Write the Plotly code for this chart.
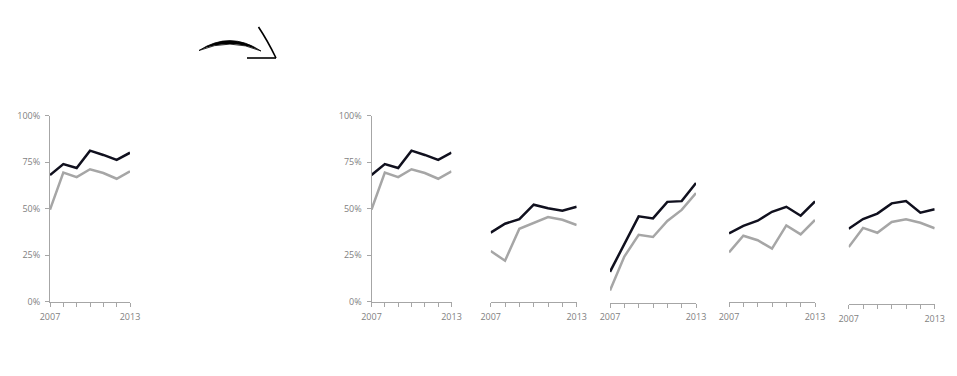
import plotly.graph_objects as go

# page body has an 8px margin: draw in a slightly smaller figure and shift all frames
OFF = 8
W, H = 957 - 2 * OFF, 376 - 2 * OFF

years = [2007, 2008, 2009, 2010, 2011, 2012, 2013]
year_labels = ["2007", "", "", "", "", "", "2013"]
y_ticks = [0, 25, 50, 75, 100]
y_tick_labels = ["0%", "25%", "50%", "75%", "100%"]

overall_black = [68.1, 74.0, 71.9, 81.2, 78.9, 76.2, 80.1]
overall_grey = [49.5, 69.4, 67.0, 71.2, 69.2, 66.1, 70.1]
p3_black = [37.3, 42.1, 44.5, 52.3, 50.4, 49.1, 51.2]
p3_grey = [27.4, 22.2, 39.4, 42.6, 45.7, 44.2, 41.4]
p4_black = [16.5, 31.0, 46.3, 45.2, 54.1, 54.5, 64.2]
p4_grey = [6.5, 24.7, 36.4, 35.2, 43.8, 49.8, 58.8]
p5_black = [36.9, 40.9, 43.7, 48.5, 51.2, 46.4, 54.1]
p5_grey = [26.7, 35.6, 33.2, 28.7, 41.2, 36.4, 44.1]
p6_black = [40.5, 45.7, 48.6, 54.1, 55.4, 49.1, 50.9]
p6_grey = [30.6, 40.9, 38.3, 44.1, 45.5, 43.7, 40.7]

panels = [
    (overall_black, overall_grey, True),
    (overall_black, overall_grey, True),
    (p3_black, p3_grey, False),
    (p4_black, p4_grey, False),
    (p5_black, p5_grey, False),
    (p6_black, p6_grey, False),
]

# panel frames in page pixels: (x_left, x_right, y_baseline)
frames = [
    (50, 130, 301.7),
    (371.5, 451.5, 301.7),
    (490.7, 576.7, 302),
    (610, 696, 302.5),
    (729, 815, 302),
    (848.7, 934.7, 304),
]
PLOT_H = 186

BLACK = "#10101e"
GREY = "#a6a6a6"
AXIS = "#a6a6a6"
TEXT = "#7f7f7f"
FONT = "Open Sans"


def fx(px):
    return (px - OFF) / W


def fy(py):
    return 1 - (py - OFF) / H


fig = go.Figure()
layout = dict(
    width=W, height=H,
    margin=dict(l=0, r=0, t=0, b=0, pad=0, autoexpand=False),
    paper_bgcolor="white", plot_bgcolor="white",
    showlegend=False,
    font=dict(family=FONT, size=9, color=TEXT),
)

for i, ((blk, gry, show_y), (xl, xr, yb)) in enumerate(zip(panels, frames)):
    n = "" if i == 0 else str(i + 1)
    xa, ya = "x" + n, "y" + n
    for vals, col in ((gry, GREY), (blk, BLACK)):
        fig.add_trace(go.Scatter(x=years, y=vals, mode="lines", xaxis=xa, yaxis=ya,
                                 line=dict(color=col, width=2.5), hoverinfo="skip"))
    layout["xaxis" + n] = dict(
        domain=[fx(xl), fx(xr)], range=[2007, 2013], anchor=ya, automargin=False,
        tickmode="array", tickvals=years, ticktext=year_labels,
        ticks="outside", ticklen=4, tickcolor=AXIS, tickwidth=1,
        ticklabelstandoff=2,
        showline=True, linecolor=AXIS, linewidth=1, showgrid=False, zeroline=False,
        tickfont=dict(family=FONT, size=9, color=TEXT),
    )
    ydom = [fy(yb), fy(yb - PLOT_H)]
    if show_y:
        layout["yaxis" + n] = dict(
            domain=ydom, range=[0, 100], anchor=xa, automargin=False,
            tickmode="array", tickvals=y_ticks, ticktext=y_tick_labels,
            ticks="outside", ticklen=4, tickcolor=AXIS, tickwidth=1,
            ticklabelstandoff=3,
            showline=True, linecolor=AXIS, linewidth=1, showgrid=False, zeroline=False,
            tickfont=dict(family=FONT, size=9, color=TEXT),
        )
    else:
        layout["yaxis" + n] = dict(domain=ydom, range=[0, 100], anchor=xa,
                                   visible=False, automargin=False)


def P(x, y):
    return f"{fx(x):.5f},{fy(y):.5f}"


shapes = [
    # curved brush stroke of arrow
    dict(type="path", xref="paper", yref="paper",
         path=f"M {P(199, 50.5)} Q {P(230, 30.5)} {P(261, 51)} Q {P(230, 37.5)} {P(199, 50.5)} Z",
         fillcolor="black", line=dict(color="black", width=0.8)),
    # arrow head: slanted stroke
    dict(type="path", xref="paper", yref="paper",
         path=f"M {P(258.5, 27)} Q {P(267.5, 40.5)} {P(276, 58)}",
         line=dict(color="black", width=1.6)),
    # arrow head: horizontal stroke
    dict(type="line", xref="paper", yref="paper",
         x0=fx(247), y0=fy(58), x1=fx(276), y1=fy(58),
         line=dict(color="black", width=1.6)),
]
layout["shapes"] = shapes

fig.update_layout(**layout)
fig.write_html("out.html", config={"displayModeBar": False})
